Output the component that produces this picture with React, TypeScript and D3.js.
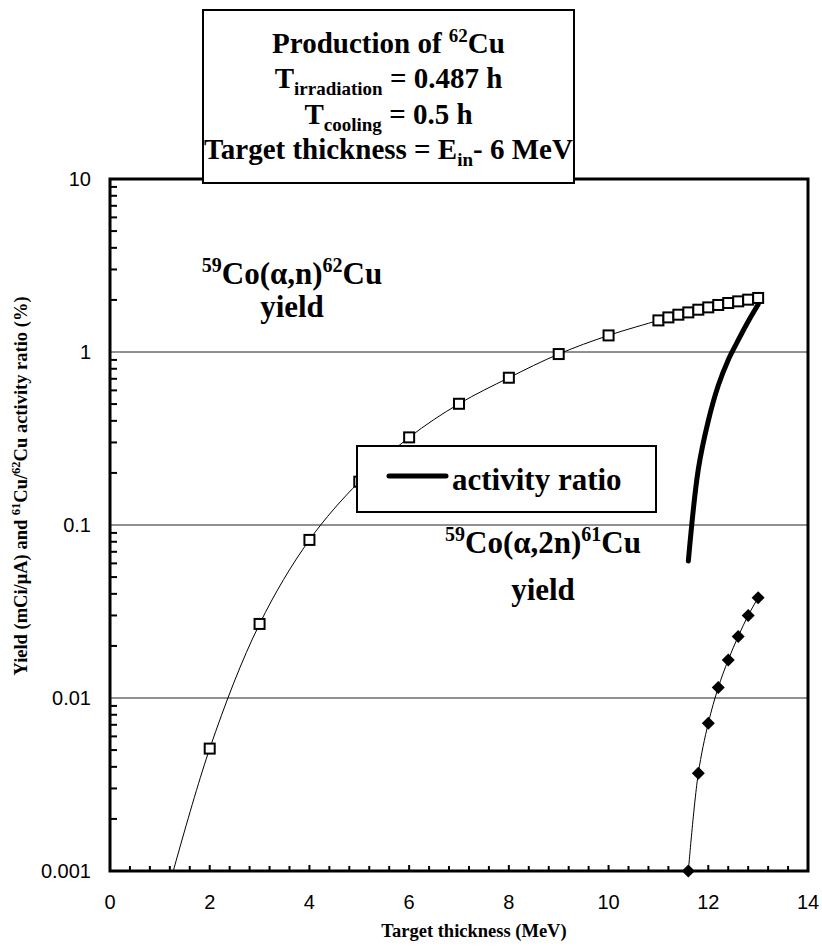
import React from "react";
import * as d3 from "d3";

const xTickValues = [0, 2, 4, 6, 8, 10, 12, 14];
const yTickValues = [0.001, 0.01, 0.1, 1, 10];
const yTickLabels = ["0.001", "0.01", "0.1", "1", "10"];
const gridValues = [0.01, 0.1, 1];

// 59Co(a,n)62Cu yield (mCi/uA)
const cu62X = [1, 2, 3, 4, 5, 6, 7, 8, 9, 10, 11, 11.2, 11.4, 11.6, 11.8, 12, 12.2, 12.4, 12.6, 12.8, 13];
const cu62Y = [0.00052, 0.0051, 0.0268, 0.082, 0.178, 0.321, 0.502, 0.71, 0.973, 1.247, 1.523, 1.585, 1.643, 1.694, 1.756, 1.811, 1.87, 1.92, 1.962, 2.007, 2.053];

// 59Co(a,2n)61Cu yield (mCi/uA)
const cu61X = [11.6, 11.8, 12.0, 12.2, 12.4, 12.6, 12.8, 13.0];
const cu61Y = [0.001, 0.00367, 0.00715, 0.0115, 0.0166, 0.0227, 0.03, 0.038];

// 61Cu/62Cu activity ratio (%)
const ratioX = [11.6, 11.8, 12.0, 12.2, 12.4, 12.6, 12.8, 13.0];
const ratioY = [0.062, 0.21, 0.4, 0.64, 0.9, 1.17, 1.5, 1.88];

const W = 822;
const H = 952;
const L = 110, R = 808, T = 179, B = 871;

const serif = "'Liberation Serif', 'Times New Roman', serif";
const sans = "'Liberation Sans', Arial, sans-serif";

export default function App() {
  const x = d3.scaleLinear().domain([0, 14]).range([L, R]);
  const y = d3.scaleLog().domain([0.001, 10]).range([B, T]);

  const line = d3
    .line<[number, number]>()
    .x((d) => x(d[0]))
    .y((d) => y(d[1]))
    .curve(d3.curveCatmullRom.alpha(0.5));

  const cu62 = cu62X.map((v, i) => [v, cu62Y[i]] as [number, number]);
  const cu61 = cu61X.map((v, i) => [v, cu61Y[i]] as [number, number]);
  const ratio = ratioX.map((v, i) => [v, ratioY[i]] as [number, number]);

  const minorY: number[] = [];
  [0.001, 0.01, 0.1, 1].forEach((d) => {
    for (let k = 2; k <= 9; k++) minorY.push(k * d);
  });
  const minorX: number[] = [];
  for (let i = 0; i <= 35; i++) minorX.push(i * 0.4);

  const inDomain = (d: [number, number]) => d[1] >= 0.001 && d[1] <= 10 && d[0] >= 0 && d[0] <= 14;

  return (
    <svg width={W} height={H} style={{ position: "absolute", left: 0, top: 0, background: "#fff" }}>
      <defs>
        <clipPath id="plotClip">
          <rect x={L} y={T} width={R - L} height={B - T} />
        </clipPath>
      </defs>
      <rect x={0} y={0} width={W} height={H} fill="#fff" />

      {/* gridlines */}
      {gridValues.map((g) => (
        <line key={g} x1={L} x2={R} y1={y(g)} y2={y(g)} stroke="#222" strokeWidth={1} />
      ))}

      {/* series lines */}
      <g clipPath="url(#plotClip)">
        <path d={line(cu62) || ""} fill="none" stroke="#000" strokeWidth={1} />
        <path d={line(cu61) || ""} fill="none" stroke="#000" strokeWidth={1} />
        <path d={line(ratio) || ""} fill="none" stroke="#000" strokeWidth={5} strokeLinecap="round" />
      </g>

      {/* markers */}
      {cu62.filter(inDomain).map((d, i) => (
        <rect key={"s" + i} x={x(d[0]) - 5} y={y(d[1]) - 5} width={10} height={10} fill="#fff" stroke="#000" strokeWidth={2} />
      ))}
      {cu61.filter(inDomain).map((d, i) => {
        const cx = x(d[0]);
        const cy = y(d[1]);
        return (
          <path key={"d" + i} d={`M${cx},${cy - 6.5}L${cx + 6.5},${cy}L${cx},${cy + 6.5}L${cx - 6.5},${cy}Z`} fill="#000" />
        );
      })}

      {/* ticks */}
      {minorY.map((v) => (
        <line key={"my" + v} x1={L} x2={L + 7} y1={y(v)} y2={y(v)} stroke="#000" strokeWidth={2} />
      ))}
      {minorX.map((v) => (
        <line key={"mx" + v} x1={x(v)} x2={x(v)} y1={B} y2={Math.abs(v / 2 - Math.round(v / 2)) < 1e-6 ? B - 6 : B - 5} stroke="#000" strokeWidth={2} />
      ))}

      {/* frame */}
      <rect x={L} y={T} width={R - L} height={B - T} fill="none" stroke="#000" strokeWidth={3} />

      {/* tick labels */}
      {yTickValues.map((v, i) => (
        <text key={"yl" + v} x={91} y={y(v) + 7} textAnchor="end" fontFamily={sans} fontSize={20} fill="#000">
          {yTickLabels[i]}
        </text>
      ))}
      {xTickValues.map((v) => (
        <text key={"xl" + v} x={x(v)} y={909} textAnchor="middle" fontFamily={sans} fontSize={20} fill="#000">
          {v}
        </text>
      ))}

      {/* axis titles */}
      <text x={474} y={937} textAnchor="middle" fontFamily={serif} fontWeight="bold" fontSize={18.5}>
        Target thickness (MeV)
      </text>
      <text transform={`translate(27, 486) rotate(-90)`} textAnchor="middle" fontFamily={serif} fontWeight="bold" fontSize={18.5}>
        Yield (mCi/μA) and <tspan fontSize={12.5} dy={-7}>61</tspan>
        <tspan dy={7}>Cu/</tspan>
        <tspan fontSize={12.5} dy={-7}>62</tspan>
        <tspan dy={7}>Cu activity ratio (%)</tspan>
      </text>

      {/* title box */}
      <rect x={203} y={10} width={371} height={173} fill="#fff" stroke="#000" strokeWidth={2} />
      <g fontFamily={serif} fontWeight="bold" fontSize={29} textAnchor="middle" fill="#000">
        <text x={388.5} y={53}>
          Production of <tspan fontSize={19} dy={-11}>62</tspan>
          <tspan dy={11}>Cu</tspan>
        </text>
        <text x={388.5} y={88}>
          T<tspan fontSize={19} dy={7}>irradiation</tspan>
          <tspan dy={-7}> = 0.487 h</tspan>
        </text>
        <text x={388.5} y={124}>
          T<tspan fontSize={19} dy={7}>cooling</tspan>
          <tspan dy={-7}> = 0.5 h</tspan>
        </text>
        <text x={388.5} y={159}>
          Target thickness = E<tspan fontSize={19} dy={7}>in</tspan>
          <tspan dy={-7}>- 6 MeV</tspan>
        </text>
      </g>

      {/* series annotations */}
      <g fontFamily={serif} fontWeight="bold" fontSize={31} textAnchor="middle" fill="#000">
        <text x={292} y={284}>
          <tspan fontSize={20} dy={-12}>59</tspan>
          <tspan dy={12}>Co(α,n)</tspan>
          <tspan fontSize={20} dy={-12}>62</tspan>
          <tspan dy={12}>Cu</tspan>
        </text>
        <text x={292} y={317}>yield</text>
        <text x={543} y={553}>
          <tspan fontSize={20} dy={-12}>59</tspan>
          <tspan dy={12}>Co(α,2n)</tspan>
          <tspan fontSize={20} dy={-12}>61</tspan>
          <tspan dy={12}>Cu</tspan>
        </text>
        <text x={543} y={600}>yield</text>
      </g>

      {/* legend */}
      <rect x={357} y={446} width={299} height={66} fill="#fff" stroke="#000" strokeWidth={2} />
      <line x1={389} x2={446} y1={476} y2={476} stroke="#000" strokeWidth={5} strokeLinecap="round" />
      <text x={452} y={490} fontFamily={serif} fontWeight="bold" fontSize={31} fill="#000">
        activity ratio
      </text>
    </svg>
  );
}
